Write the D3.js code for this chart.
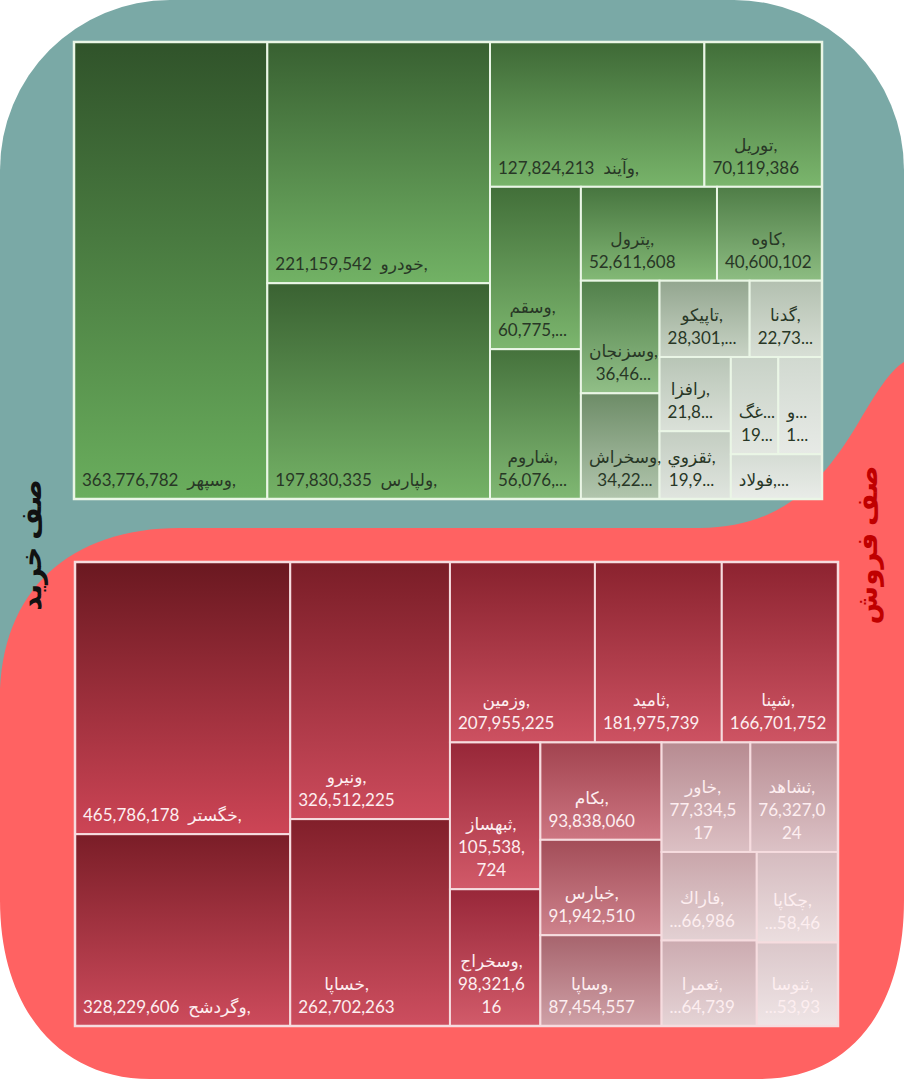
<!DOCTYPE html>
<html>
<head>
<meta charset="utf-8">
<script src="https://cdn.jsdelivr.net/npm/d3@7"></script>
<style>
  body { margin: 0; background: #fff; }
  svg { display: block; }
  text { font-family: Lato, "DejaVu Sans", sans-serif; white-space: pre; }
</style>
</head>
<body>
<svg id="chart" width="904" height="1079"></svg>
<script>
// buy queue (green)
const buyNames = ["وسپهر", "خودرو", "ولپارس", "وآیند", "توریل", "وسقم", "شاروم", "پترول", "کاوه",
  "وسزنجان", "وسخراش", "تاپیکو", "گدنا", "رافزا", "ثقزوي", "غگ...", "و...", "فولاد"];
const buyValues = [363776782, 221159542, 197830335, 127824213, 70119386, 60775000, 56076000, 52611608, 40600102,
  36460000, 34220000, 28301000, 22730000, 21800000, 19900000, 19000000, 17500000, 16800000];
// value text as it is shown (excel cuts the small ones)
const buyShown = ["363,776,782", "221,159,542", "197,830,335", "127,824,213", "70,119,386", "60,775,...", "56,076,...", "52,611,608", "40,600,102",
  "36,46...", "34,22...", "28,301,...", "22,73...", "21,8...", "19,9...", "19...", "1...", "16,8..."];
const buyGroups = [1, 2, 2, 2, 2, 2, 2, 2, 2, 1];

// sell queue (red)
const sellNames = ["خگستر", "وگردشح", "ونیرو", "خساپا", "وزمین", "ثامید", "شپنا", "ثبهساز", "وسخراج",
  "بکام", "خبارس", "وساپا", "خاور", "ثشاهد", "فاراك", "ثعمرا", "چکاپا", "ثنوسا"];
const sellValues = [465786178, 328229606, 326512225, 262702263, 207955225, 181975739, 166701752, 105538724, 98321616,
  93838060, 91942510, 87454557, 77334517, 76327024, 66986000, 64739000, 58460000, 53930000];
const sellShown = ["465,786,178", "328,229,606", "326,512,225", "262,702,263", "207,955,225", "181,975,739", "166,701,752", "105,538,724", "98,321,616",
  "93,838,060", "91,942,510", "87,454,557", "77,334,517", "76,327,024", "...66,986", "...64,739", "...58,46", "...53,93"];
const sellGroups = [2, 2, 3, 2, 3, 2, 2, 1, 1];

const svg = d3.select("#chart");
const defs = svg.append("defs");

// background shapes
svg.append("path")
  .attr("d", "M0,170 A170,170 0 0 1 170,0 L734,0 A170,170 0 0 1 904,170 L904,820 L0,820 Z")
  .attr("fill", "#7aa9a6");
svg.append("path")
  .attr("d", "M0,700 C0,590 70,528 180,528 L700,528 C790,528 830,470 860,420 C875,395 890,370 904,362 L904,900 C904,1010 850,1079 760,1079 L150,1079 C60,1079 0,1010 0,900 Z")
  .attr("fill", "#ff6262");

// side titles
svg.append("text")
  .attr("transform", "translate(30,545) rotate(-90)")
  .attr("text-anchor", "middle").attr("dominant-baseline", "central")
  .style("font-size", "28px").style("font-weight", "bold")
  .attr("fill", "#111").text("صف خرید");
svg.append("text")
  .attr("transform", "translate(866,545) rotate(-90)")
  .attr("text-anchor", "middle").attr("dominant-baseline", "central")
  .style("font-size", "28px").style("font-weight", "bold")
  .attr("fill", "#c00000").text("صف فروش");

// colour ramps (by value, millions)
const buyTop = d3.scaleLinear().domain([16.8, 28.3, 34.2, 36.5, 60.8, 363.8])
  .range(["#d5dcd4", "#93a68f", "#6d8c67", "#52804a", "#426f39", "#30532a"]).clamp(true);
const buyBottom = d3.scaleLinear().domain([16.8, 28.3, 34.2, 36.5, 60.8, 363.8])
  .range(["#e9ece8", "#c8d3c5", "#b2c6ae", "#90bf86", "#7cb66e", "#6aae5d"]).clamp(true);
const sellTop = d3.scaleLinear().domain([53.9, 67, 77, 87.5, 93.8, 98.3, 182, 466])
  .range(["#dbc7ca", "#c9a5aa", "#b88c92", "#a7646d", "#a2434f", "#982739", "#8a222e", "#6a1820"]).clamp(true);
const sellBottom = d3.scaleLinear().domain([53.9, 67, 77, 87.5, 93.8, 98.3, 182, 466])
  .range(["#efe5e6", "#e3d1d3", "#dcc1c5", "#cfa1a7", "#cd7682", "#d25b6a", "#cd5262", "#cd4556"]).clamp(true);

// excel-like tiling: rows/columns with the given number of items each
function groupTile(groups) {
  return (parent, x0, y0, x1, y1) => {
    const nodes = parent.children;
    let rest = parent.value, i = 0;
    for (const n of groups) {
      const row = {children: nodes.slice(i, i + n)};
      row.value = d3.sum(row.children, c => c.value);
      const dx = x1 - x0, dy = y1 - y0;
      if (dx < dy) {
        const yy = y0 + dy * row.value / rest;
        d3.treemapDice(row, x0, y0, x1, yy); y0 = yy;
      } else {
        const xx = x0 + dx * row.value / rest;
        d3.treemapSlice(row, x0, y0, xx, y1); x0 = xx;
      }
      rest -= row.value; i += n;
    }
  };
}

const PAD = 8, LINE_H = 23, BOTTOM = 13, FONT = 17;
const measurer = svg.append("text").style("font-size", FONT + "px").attr("x", -999).attr("y", -999);
const textWidth = s => measurer.text(s).node().getComputedTextLength();

function wrapChars(s, avail) {
  const out = [];
  let cur = "";
  for (const ch of s) {
    if (cur && textWidth(cur + ch) > avail) { out.push(cur); cur = ch; }
    else cur += ch;
  }
  if (cur) out.push(cur);
  return out;
}

function labelLines(d, wrap) {
  const w = d.x1 - d.x0, h = d.y1 - d.y0, avail = w - 2 * PAD;
  const name = d.data.name.endsWith("...") ? d.data.name : d.data.name + ",";
  const single = d.data.shown + "\u00a0\u00a0" + name;
  if (textWidth(single) <= avail) return {lines: [single], single: true};
  const maxLines = Math.floor((h - BOTTOM - 18) / LINE_H) + 1;
  if (maxLines < 2) return {lines: [name + "..."], single: true};
  let vals = [d.data.shown];
  if (wrap && textWidth(d.data.shown) > avail && maxLines >= 3) vals = wrapChars(d.data.shown, avail);
  return {lines: [name, ...vals], single: false};
}

function drawTreemap(cfg) {
  const root = d3.hierarchy({children: cfg.names.map((n, i) => ({name: n, value: cfg.values[i], shown: cfg.shown[i]}))})
    .sum(d => d.value || 0);
  d3.treemap()
    .size([cfg.x1 - cfg.x0, cfg.y1 - cfg.y0])
    .tile(groupTile(cfg.groups))(root);

  const g = svg.append("g").attr("transform", `translate(${cfg.x0},${cfg.y0})`);
  const leaves = root.leaves();

  leaves.forEach((d, i) => {
    const grad = defs.append("linearGradient")
      .attr("id", cfg.id + i).attr("x1", 0).attr("y1", 0).attr("x2", 0).attr("y2", 1);
    grad.append("stop").attr("offset", "0%").attr("stop-color", cfg.top(d.data.value / 1e6));
    grad.append("stop").attr("offset", "100%").attr("stop-color", cfg.bottom(d.data.value / 1e6));
  });

  g.selectAll("rect.cell")
    .data(leaves)
    .join("rect")
    .attr("class", "cell")
    .attr("x", d => d.x0)
    .attr("y", d => d.y0)
    .attr("width", d => d.x1 - d.x0)
    .attr("height", d => d.y1 - d.y0)
    .attr("fill", (d, i) => `url(#${cfg.id}${i})`)
    .attr("stroke", cfg.border)
    .attr("stroke-width", 2);

  g.append("rect")
    .attr("width", cfg.x1 - cfg.x0).attr("height", cfg.y1 - cfg.y0)
    .attr("fill", "none").attr("stroke", cfg.border).attr("stroke-width", 2.5);

  leaves.forEach(d => {
    const lab = labelLines(d, cfg.wrap);
    const t = g.append("text").style("font-size", FONT + "px").attr("fill", cfg.textColor);
    const n = lab.lines.length;
    if (lab.single) {
      t.attr("x", d.x0 + PAD).attr("y", d.y1 - BOTTOM).text(lab.lines[0]);
    } else {
      const bw = d3.max(lab.lines, l => textWidth(l));
      const cx = d.x0 + PAD + bw / 2;
      t.attr("text-anchor", "middle");
      lab.lines.forEach((l, k) => {
        t.append("tspan")
          .attr("x", cx)
          .attr("y", d.y1 - BOTTOM - (n - 1 - k) * LINE_H)
          .text(l);
      });
    }
  });
}

drawTreemap({
  id: "buy", names: buyNames, values: buyValues, shown: buyShown, groups: buyGroups, wrap: false,
  x0: 74, y0: 42, x1: 822, y1: 499,
  top: buyTop, bottom: buyBottom, border: "#eaf6e6", textColor: "#283726"
});
drawTreemap({
  id: "sell", names: sellNames, values: sellValues, shown: sellShown, groups: sellGroups, wrap: true,
  x0: 75, y0: 562, x1: 838, y1: 1026,
  top: sellTop, bottom: sellBottom, border: "#f6dcdf", textColor: "#fdeef0"
});
measurer.remove();
</script>
</body>
</html>
